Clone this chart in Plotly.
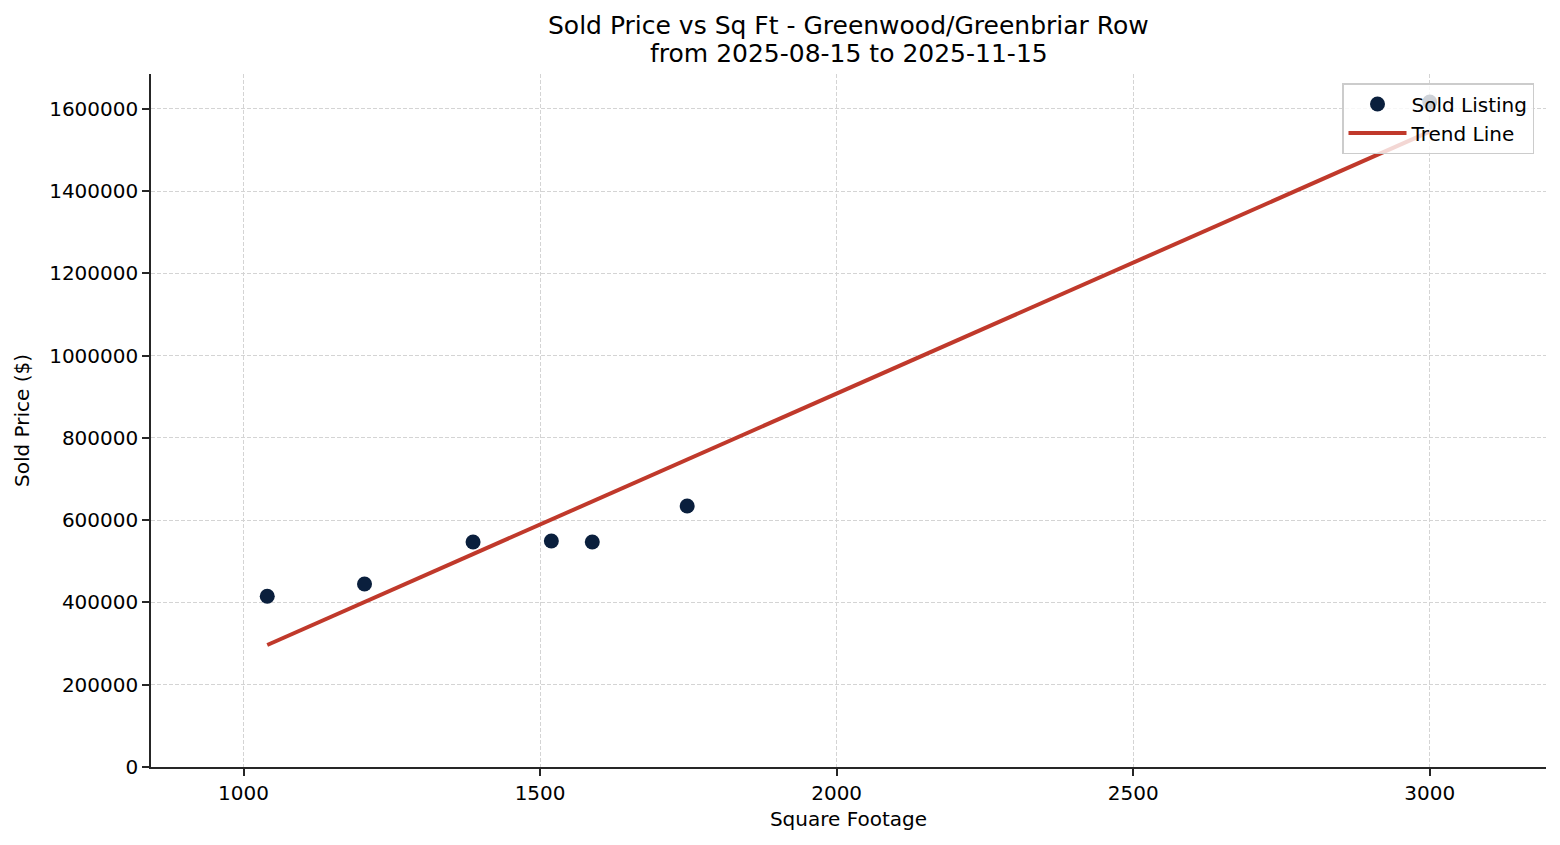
import numpy as np
import plotly.graph_objects as go

# sold listings
sqft = [1040, 1204, 1387, 1519, 1588, 1748, 3000]
sold_price = [415000, 445000, 547000, 549500, 547000, 634500, 1617000]

title_lines = ["Sold Price vs Sq Ft - Greenwood/Greenbriar Row", "from 2025-08-15 to 2025-11-15"]
y_ticks = [0, 200000, 400000, 600000, 800000, 1000000, 1200000, 1400000, 1600000]
x_ticks = [1000, 1500, 2000, 2500, 3000]

# least squares trend line across the observed range
slope, intercept = np.polyfit(sqft, sold_price, 1)
trend_x = [min(sqft), max(sqft)]
trend_y = [slope * v + intercept for v in trend_x]

font_family = "DejaVu Sans"
axis_color = "#262626"
grid_color = "#d4d4d4"

# the page adds an 8px body margin, so the figure is a bit smaller
fig_w, fig_h = 1552, 837
m_l, m_r, m_t, m_b = 143, 14, 66, 78
plot_h = fig_h - m_t - m_b

fig = go.Figure()

fig.add_trace(go.Scatter(
    x=sqft,
    y=sold_price,
    mode="markers",
    marker=dict(size=15, color="#0a1f3d"),
    name="Sold Listing",
))

fig.add_trace(go.Scatter(
    x=trend_x,
    y=trend_y,
    mode="lines",
    line=dict(color="#c0392b", width=4),
    name="Trend Line",
))

axis_common = dict(
    showline=True,
    linecolor=axis_color,
    linewidth=1.5,
    ticks="outside",
    ticklen=7,
    tickwidth=1.5,
    tickcolor=axis_color,
    showgrid=True,
    gridcolor=grid_color,
    griddash="4px,2px",
    gridwidth=1,
    zeroline=False,
    tickfont=dict(size=20, color="#000000"),
    mirror=False,
)

fig.update_xaxes(
    range=[844, 3196],
    tickvals=x_ticks,
    ticktext=[str(v) for v in x_ticks],
    title=dict(text="Square Footage", font=dict(size=20, color="#000000"), standoff=8),
    **axis_common,
)
fig.update_yaxes(
    range=[0, 1685000],
    tickvals=y_ticks,
    ticktext=[str(v) for v in y_ticks],
    title=dict(text="Sold Price ($)", font=dict(size=20, color="#000000"), standoff=14),
    **axis_common,
)

# two title lines as annotations so their spacing can be set
for text, fig_y in zip(title_lines, [18, 45]):
    fig.add_annotation(
        text=text,
        xref="paper",
        yref="paper",
        x=0.5,
        y=(fig_h - m_b - fig_y) / plot_h,
        xanchor="center",
        yanchor="middle",
        showarrow=False,
        font=dict(size=25, color="#000000"),
    )

fig.update_layout(
    width=fig_w,
    height=fig_h,
    margin=dict(l=m_l, r=m_r, t=m_t, b=m_b),
    plot_bgcolor="white",
    paper_bgcolor="white",
    font=dict(family=font_family, size=20, color="#000000"),
    showlegend=True,
    legend=dict(
        x=0.9914,
        y=0.987,
        xanchor="right",
        yanchor="top",
        bgcolor="rgba(255,255,255,0.8)",
        bordercolor="#cccccc",
        borderwidth=1.5,
        font=dict(size=20, color="#000000"),
        itemwidth=58,
        tracegroupgap=0,
    ),
)

fig.write_html("out.html")
